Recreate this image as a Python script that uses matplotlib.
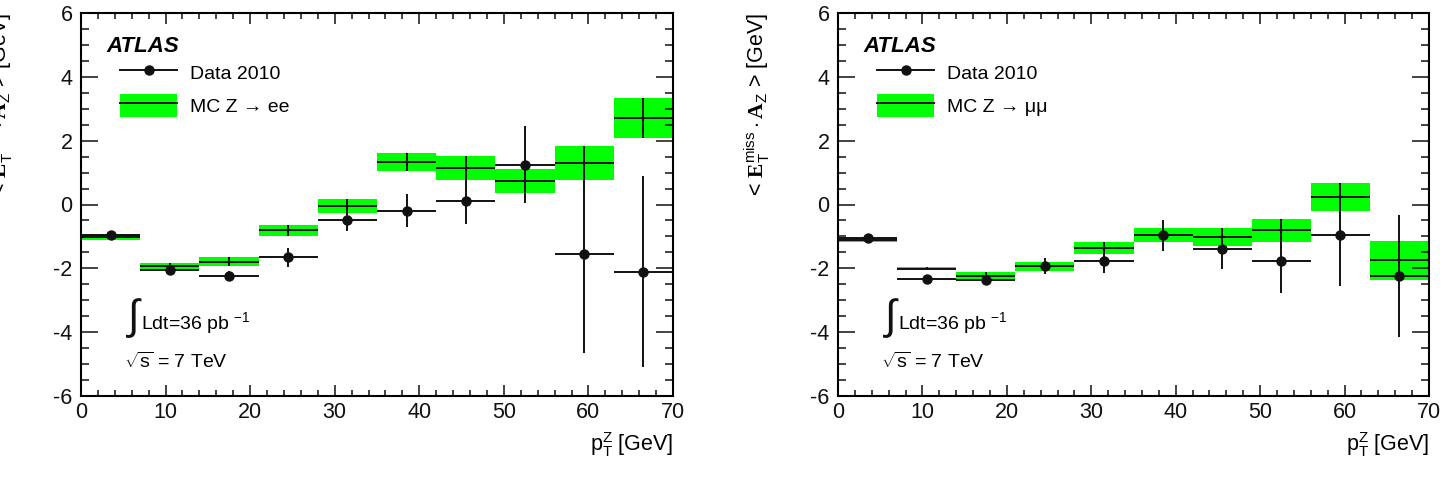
#met projection vs pT(Z), ee and mumu channels
import numpy as np
import matplotlib
matplotlib.use("Agg")
import matplotlib.pyplot as plt
from matplotlib.ticker import MultipleLocator
from matplotlib.lines import Line2D
from matplotlib.patches import Patch

plt.rcParams['font.family'] = ['Liberation Sans', 'DejaVu Sans']
plt.rcParams['mathtext.fontset'] = 'custom'
plt.rcParams['mathtext.rm'] = 'Liberation Sans'
plt.rcParams['mathtext.it'] = 'Liberation Sans:italic'
plt.rcParams['mathtext.bf'] = 'Liberation Serif:bold'
plt.rcParams['axes.unicode_minus'] = False

#bins of pT(Z) in GeV
pt_edges = [0, 7, 14, 21, 28, 35, 42, 49, 56, 63, 70]

#Z -> ee
data_ee = [-0.97, -2.06, -2.24, -1.65, -0.50, -0.20, 0.11, 1.25, -1.54, -2.10]
data_ee_err = [0.05, 0.10, 0.15, 0.30, 0.32, 0.52, 0.72, 1.21, 3.10, 3.00]
mc_ee = [-1.02, -1.93, -1.80, -0.81, -0.05, 1.33, 1.15, 0.73, 1.30, 2.71]
mc_ee_err = [0.10, 0.10, 0.14, 0.17, 0.21, 0.27, 0.37, 0.38, 0.54, 0.64]

#Z -> mumu
data_mm = [-1.06, -2.33, -2.38, -1.93, -1.77, -0.96, -1.39, -1.77, -0.96, -2.24]
data_mm_err = [0.05, 0.07, 0.12, 0.25, 0.39, 0.49, 0.64, 0.99, 1.60, 1.90]
mc_mm = [-1.10, -2.01, -2.24, -1.93, -1.36, -0.97, -1.01, -0.81, 0.24, -1.75]
mc_mm_err = [0.06, 0.04, 0.13, 0.14, 0.19, 0.22, 0.28, 0.35, 0.43, 0.60]

GREEN = '#00ff00'
INK = '#111111'


#pixel -> axes fraction helpers (panel frame 592 x 383 px)
def fx(px):
    return (px - 81) / 592.0


def fy(py):
    return (396 - py) / 383.0


#Function to draw one panel
def draw_panel(ax, mc, mc_err, data, data_err, mc_label):
    edges = np.array(pt_edges, dtype=float)
    lo, hi = edges[:-1], edges[1:]
    centers = 0.5 * (lo + hi)
    widths = hi - lo
    mc = np.array(mc)
    mc_err = np.array(mc_err)

    # MC band and cross
    ax.bar(centers, 2 * mc_err, bottom=mc - mc_err, width=widths,
           color=GREEN, linewidth=0, zorder=1)
    ax.hlines(mc, lo, hi, color=INK, lw=1.4, zorder=2)
    ax.vlines(centers, mc - mc_err, mc + mc_err, color=INK, lw=1.4, zorder=2)

    # data points
    ax.errorbar(centers, data, xerr=widths / 2, yerr=data_err, fmt='o',
                color=INK, ms=6.5, lw=1.4, capsize=0, zorder=3)

    ax.set_xlim(0, 70)
    ax.set_ylim(-6, 6)
    ax.xaxis.set_major_locator(MultipleLocator(10))
    ax.xaxis.set_minor_locator(MultipleLocator(2))
    ax.yaxis.set_major_locator(MultipleLocator(2))
    ax.yaxis.set_minor_locator(MultipleLocator(0.5))
    ax.tick_params(which='both', direction='in', top=True, right=True,
                   width=1.1, colors=INK, labelsize=15.5)
    ax.tick_params(axis='y', which='major', length=12, pad=6)
    ax.tick_params(axis='y', which='minor', length=6)
    ax.tick_params(axis='x', which='major', length=8, pad=4)
    ax.tick_params(axis='x', which='minor', length=4)
    for s in ax.spines.values():
        s.set_linewidth(1.5)

    ax.set_xlabel(r'$\mathrm{p}_{\mathrm{T}}^{\mathrm{Z}}$ [GeV]', fontsize=15.5)
    ax.xaxis.set_label_coords(1.0, -0.088)
    ax.xaxis.label.set_ha('right')
    ax.set_ylabel(r'< $\mathbf{E}_{\mathrm{T}}^{\mathrm{miss}}\cdot\mathbf{A}_{\mathrm{Z}}$ > [GeV]',
                  fontsize=15.5)
    ax.yaxis.set_label_coords(-0.112, 1.0)
    ax.yaxis.label.set_ha('right')

    ax.text(fx(106), fy(46), 'ATLAS', transform=ax.transAxes, fontsize=16,
            fontweight='bold', style='italic', va='center')

    handles = [Line2D([], [], color=INK, marker='o', ms=6.5, lw=1.4),
               (Patch(facecolor=GREEN, linewidth=0), Line2D([], [], color=INK, lw=1.4))]
    ax.legend(handles, ['Data 2010', mc_label], loc='upper left',
              bbox_to_anchor=(fx(120), fy(61)), frameon=False, fontsize=14,
              borderpad=0, borderaxespad=0, handlelength=2.95,
              handleheight=1.45, handletextpad=0.65, labelspacing=0.5)

    ax.text(fx(128), fy(318), '\u222b', transform=ax.transAxes, fontsize=30,
            va='center', color=INK)
    ax.text(fx(141), fy(323), 'Ldt=36 pb $^{-1}$', transform=ax.transAxes,
            fontsize=14, va='center')
    ax.text(fx(124), fy(362), r'$\sqrt{\mathrm{s}}$ = 7 TeV', transform=ax.transAxes,
            fontsize=14, va='center')


fig = plt.figure(figsize=(14.42, 4.79), dpi=100)
ax1 = fig.add_axes([81 / 1442, 83 / 479, 592 / 1442, 383 / 479])
ax2 = fig.add_axes([838 / 1442, 83 / 479, 591 / 1442, 383 / 479])

draw_panel(ax1, mc_ee, mc_ee_err, data_ee, data_ee_err, 'MC Z \u2192 ee')
draw_panel(ax2, mc_mm, mc_mm_err, data_mm, data_mm_err, 'MC Z \u2192 \u03bc\u03bc')

fig.savefig('out.png', dpi=100)
